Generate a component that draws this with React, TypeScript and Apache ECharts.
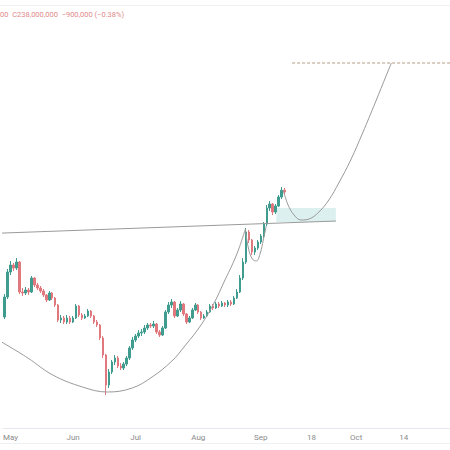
import React, { useEffect, useRef } from "react";
import * as echarts from "echarts";

// ---- data (price in millions) ----
const barCount = 150;
const categories: string[] = Array.from({ length: barCount }, (_, i) => String(i));

const tickIndex = [2, 23, 44, 65, 86, 103, 118, 134];
const tickText = ["May", "Jun", "Jul", "Aug", "Sep", "18", "Oct", "14"];

// [open, close, low, high]
const candles: number[][] = [
  [175.5, 185.5, 174.5, 187], [185.5, 198, 184.5, 199.5], [198, 201.5, 196.5, 203.5], [201.5, 200, 198.5, 202.5],
  [200, 203, 199, 205], [203, 188, 187, 203.5], [188, 187.5, 186, 190], [187.5, 189, 186.5, 190.5],
  [189, 188, 186.5, 190], [188, 195, 187.5, 196], [195, 191.5, 190.5, 195.5], [191.5, 190, 189, 192.5],
  [190, 188.5, 187.5, 191], [188.5, 186.5, 185.5, 189.5], [186.5, 184, 183, 187], [184, 187.5, 183.5, 188.5],
  [187.5, 185, 184, 188], [185, 181.5, 180.5, 185.5], [181.5, 174, 173, 182], [174, 175, 172.5, 176.5],
  [175, 173, 172, 176], [173, 175, 172, 176.5], [175, 173, 172, 176], [173, 175, 172.5, 176],
  [175, 181, 174.5, 182], [181, 176.5, 175.5, 181.5], [176.5, 175, 174, 177.5], [175, 176, 174.5, 177],
  [176, 178.5, 175.5, 179.5], [178.5, 176, 175, 179], [176, 173, 172, 176.5], [173, 171.5, 170.5, 174],
  [171.5, 165, 164, 172], [165, 156.5, 155, 166], [156.5, 141.5, 136.5, 157], [141.5, 148, 140, 149.5],
  [148, 153, 147, 154], [153, 155, 151.5, 156.5], [155, 151, 150, 156], [151, 150, 149, 152.5],
  [150, 152, 149, 153], [152, 155, 151, 156], [155, 160, 154, 161], [160, 164, 159, 165.5],
  [164, 166, 163, 167], [166, 167.5, 165, 169], [167.5, 168, 166, 169.5], [168, 170, 167, 171.5],
  [170, 171.5, 169, 172.5], [171.5, 171, 170, 172.5], [171, 172, 170, 173.5], [172, 168, 167, 172.5],
  [168, 166.5, 165.5, 169], [166.5, 170, 166, 171], [170, 178, 169.5, 179], [178, 181.5, 177, 183],
  [181.5, 183, 180, 184.5], [183, 176, 175, 183.5], [176, 179, 175.5, 180], [179, 182, 178, 183.5],
  [182, 177, 176, 182.5], [177, 173, 172, 177.5], [173, 175, 172.5, 176], [175, 179, 174.5, 180],
  [179, 181.5, 178.5, 182.5], [181.5, 178, 177, 182], [178, 175, 174, 178.5], [175, 176, 174.5, 177],
  [176, 178, 175.5, 179], [178, 181, 177.5, 182], [181, 180, 179, 182], [180, 182, 179.5, 183],
  [182, 181, 180, 183], [181, 182.5, 180.5, 183.5], [182.5, 181.5, 180.5, 183], [181.5, 183, 180.5, 184],
  [183, 182, 181, 184], [182, 185, 181.5, 186], [185, 188, 184.5, 189.5], [188, 195, 187.5, 196.5],
  [195, 203, 194, 205], [203, 218, 202, 220], [218, 214, 212.5, 219], [214, 208, 206.5, 214.5],
  [208, 210, 206.5, 211], [210, 213, 209, 214], [213, 216, 212, 217], [216, 222, 215, 223],
  [222, 230, 221, 231.5], [230, 232, 228.5, 233.5], [232, 228, 226.5, 232.5], [228, 231, 227, 232],
  [231, 235.5, 230.5, 236.5], [235.5, 238.9, 234.5, 240.5], [238.9, 238, 236.5, 240],
];

// drawings: [barIndex, price]
const necklinePts = [[-2, 217.4], [111.2, 223.5]];
const cupPts = [
  [-2, 163.9], [7.83, 155], [16.17, 146.5], [26.17, 140.5], [34.5, 138], [42.83, 140],
  [49.5, 145.5], [56.17, 153.5], [60.5, 161], [66.17, 172], [70.5, 183], [73.5, 192.5],
  [77.83, 206.5], [80.83, 219.5],
];
const innerHandlePts = [
  [80.83, 219.5], [81.83, 210], [83.17, 204.5], [84.5, 203.5], [85.83, 207.5], [86.83, 214], [87.83, 221],
];
const projectionPts = [
  [93.5, 239], [95.17, 231.5], [97.17, 226.5], [99.5, 224], [102.17, 224.5], [105.5, 228],
  [108.83, 234], [112.17, 242.5], [116.17, 254], [120.17, 267.5], [124.5, 283], [128.17, 296.5],
  [129.83, 302.5],
];
const targetPts = [[96.5, 302.5], [149.5, 302.5]];
const handleZone = [[91.2, 230], [111.2, 223]];

const headerText = "00  C238,000,000  −900,000 (−0.38%)";

export default function App() {
  const ref = useRef<HTMLDivElement>(null);
  useEffect(() => {
    if (!ref.current) return;
    const chart = echarts.init(ref.current, null, { renderer: "svg" });
    const drawLine = { color: "#9a9a9a", width: 1 };
    chart.setOption({
      animation: false,
      backgroundColor: "#ffffff",
      textStyle: { fontFamily: "Roboto, 'Noto Sans', sans-serif" },
      grid: { left: 0, right: 0, top: 20, bottom: 22 },
      xAxis: [
        {
          type: "category",
          data: categories,
          boundaryGap: true,
          axisLine: { show: true, lineStyle: { color: "#e6e8ee", width: 1 } },
          axisTick: { show: false },
          splitLine: { show: false },
          axisLabel: {
            interval: (idx: number) => tickIndex.includes(idx),
            formatter: (_v: string, idx: number) => tickText[tickIndex.indexOf(idx)] ?? "",
            color: "#8a8a8a",
            fontSize: 8,
            margin: 5,
          },
        },
        { type: "value", min: -0.5, max: barCount - 0.5, show: false, splitLine: { show: false } },
      ],
      yAxis: { type: "value", min: 120, max: 324, show: false, splitLine: { show: false } },
      series: [
        {
          type: "line",
          xAxisIndex: 1,
          data: necklinePts,
          symbol: "none",
          lineStyle: drawLine,
          markArea: {
            silent: true,
            itemStyle: { color: "rgba(38,166,154,0.16)" },
            data: [[{ coord: handleZone[0] }, { coord: handleZone[1] }]],
          },
        },
        { type: "line", xAxisIndex: 1, data: cupPts, symbol: "none", smooth: 0.4, lineStyle: drawLine },
        { type: "line", xAxisIndex: 1, data: innerHandlePts, symbol: "none", smooth: 0.4, lineStyle: drawLine },
        { type: "line", xAxisIndex: 1, data: projectionPts, symbol: "none", smooth: 0.4, lineStyle: drawLine },
        {
          type: "line",
          xAxisIndex: 1,
          data: targetPts,
          symbol: "none",
          lineStyle: { color: "#b59c86", width: 1, type: [3, 2] },
        },
        {
          type: "candlestick",
          xAxisIndex: 0,
          data: candles,
          barWidth: 2,
          itemStyle: {
            color: "#3f9c8e",
            color0: "#e0787e",
            borderColor: "#3f9c8e",
            borderColor0: "#e0787e",
            borderWidth: 1,
          },
        },
      ],
      graphic: [
        { type: "line", shape: { x1: 0, y1: 5.5, x2: 450, y2: 5.5 }, style: { stroke: "#eef0f3", lineWidth: 1 } },
        { type: "line", shape: { x1: 0, y1: 443.5, x2: 450, y2: 443.5 }, style: { stroke: "#eef0f3", lineWidth: 1 } },
        {
          type: "text",
          x: 0,
          y: 10,
          style: { text: headerText, fill: "#e08a8a", fontSize: 7.5, fontFamily: "Roboto, sans-serif" },
        },
      ],
    });
    return () => chart.dispose();
  }, []);
  return <div ref={ref} style={{ position: "fixed", left: 0, top: 0, width: 450, height: 450 }} />;
}
